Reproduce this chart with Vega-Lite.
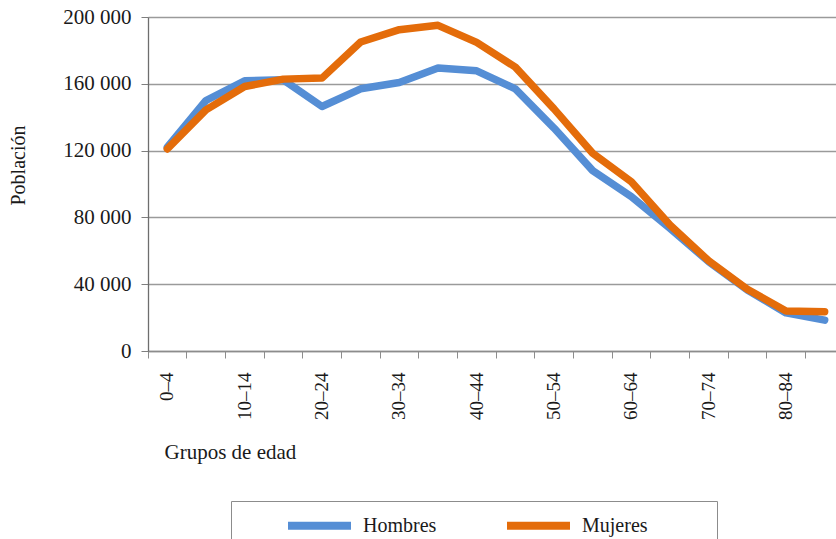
{
  "$schema": "https://vega.github.io/schema/vega-lite/v6.json",
  "autosize": {"type": "none"},
  "padding": {"left": 148, "top": 17, "right": 0, "bottom": 188},
  "width": 688,
  "height": 334,
  "background": "white",
  "config": {
    "font": "Liberation Serif",
    "view": {"stroke": null},
    "axis": {"labelFont": "Liberation Serif", "titleFont": "Liberation Serif", "labelColor": "#1a1a1a", "titleColor": "#1a1a1a", "titleFontWeight": "normal"},
    "legend": {"labelFont": "Liberation Serif"}
  },
  "data": {
    "values": [
      {"edad": "0–4", "sexo": "Hombres", "poblacion": 122000},
      {"edad": "5–9", "sexo": "Hombres", "poblacion": 150000},
      {"edad": "10–14", "sexo": "Hombres", "poblacion": 161800},
      {"edad": "15–19", "sexo": "Hombres", "poblacion": 162400},
      {"edad": "20–24", "sexo": "Hombres", "poblacion": 146400},
      {"edad": "25–29", "sexo": "Hombres", "poblacion": 157000},
      {"edad": "30–34", "sexo": "Hombres", "poblacion": 160800},
      {"edad": "35–39", "sexo": "Hombres", "poblacion": 169400},
      {"edad": "40–44", "sexo": "Hombres", "poblacion": 167800},
      {"edad": "45–49", "sexo": "Hombres", "poblacion": 157000},
      {"edad": "50–54", "sexo": "Hombres", "poblacion": 133500},
      {"edad": "55–59", "sexo": "Hombres", "poblacion": 108000},
      {"edad": "60–64", "sexo": "Hombres", "poblacion": 92400},
      {"edad": "65–69", "sexo": "Hombres", "poblacion": 73400},
      {"edad": "70–74", "sexo": "Hombres", "poblacion": 53500},
      {"edad": "75–79", "sexo": "Hombres", "poblacion": 36500},
      {"edad": "80–84", "sexo": "Hombres", "poblacion": 22800},
      {"edad": "85+", "sexo": "Hombres", "poblacion": 18500},
      {"edad": "0–4", "sexo": "Mujeres", "poblacion": 121000},
      {"edad": "5–9", "sexo": "Mujeres", "poblacion": 144400},
      {"edad": "10–14", "sexo": "Mujeres", "poblacion": 158400},
      {"edad": "15–19", "sexo": "Mujeres", "poblacion": 162800},
      {"edad": "20–24", "sexo": "Mujeres", "poblacion": 163400},
      {"edad": "25–29", "sexo": "Mujeres", "poblacion": 185000},
      {"edad": "30–34", "sexo": "Mujeres", "poblacion": 192400},
      {"edad": "35–39", "sexo": "Mujeres", "poblacion": 195000},
      {"edad": "40–44", "sexo": "Mujeres", "poblacion": 184800},
      {"edad": "45–49", "sexo": "Mujeres", "poblacion": 170000},
      {"edad": "50–54", "sexo": "Mujeres", "poblacion": 145000},
      {"edad": "55–59", "sexo": "Mujeres", "poblacion": 118400},
      {"edad": "60–64", "sexo": "Mujeres", "poblacion": 101400},
      {"edad": "65–69", "sexo": "Mujeres", "poblacion": 75400},
      {"edad": "70–74", "sexo": "Mujeres", "poblacion": 54000},
      {"edad": "75–79", "sexo": "Mujeres", "poblacion": 37000},
      {"edad": "80–84", "sexo": "Mujeres", "poblacion": 24000},
      {"edad": "85+", "sexo": "Mujeres", "poblacion": 23500}
    ]
  },
  "mark": {"type": "line", "strokeWidth": 7.5, "strokeCap": "round", "strokeJoin": "round", "clip": true},
  "encoding": {
    "x": {
      "field": "edad",
      "type": "ordinal",
      "sort": null,
      "scale": {"type": "band", "paddingInner": 0, "paddingOuter": 0, "range": [0, 696]},
      "axis": {
        "title": "Grupos de edad",
        "titleFontSize": 21,
        "titleAlign": "left",
        "titleAnchor": "start",
        "titleX": 16,
        "titleY": 101,
        "titleBaseline": "middle",
        "labelAngle": -90,
        "labelAlign": "right",
        "labelBaseline": "middle",
        "labelFontSize": 19,
        "labelPadding": 14,
        "labelExpr": "indexof(['0–4','10–14','20–24','30–34','40–44','50–54','60–64','70–74','80–84'], datum.value) >= 0 ? datum.label : ''",
        "bandPosition": 0,
        "tickSize": 7,
        "tickColor": "#8c8c8c",
        "domainColor": "#8c8c8c",
        "domainWidth": 1.3,
        "grid": false
      }
    },
    "y": {
      "field": "poblacion",
      "type": "quantitative",
      "scale": {"domain": [0, 200000], "nice": false},
      "axis": {
        "title": "Población",
        "titleFontSize": 20,
        "titleX": -130,
        "titleY": 148,
        "titleBaseline": "middle",
        "values": [0, 40000, 80000, 120000, 160000, 200000],
        "labelExpr": "replace(format(datum.value, ','), ',', ' ')",
        "labelFontSize": 21,
        "labelPadding": 10,
        "tickSize": 7,
        "tickColor": "#7f7f7f",
        "domainColor": "#6e6e6e",
        "domainWidth": 1.3,
        "gridColor": "#9a9a9a",
        "gridWidth": 1.3
      }
    },
    "color": {
      "field": "sexo",
      "type": "nominal",
      "scale": {"domain": ["Hombres", "Mujeres"], "range": ["#558ED5", "#E46C0A"]},
      "legend": {
        "orient": "none",
        "legendX": 83,
        "legendY": 484,
        "direction": "horizontal",
        "title": " ",
        "titleOrient": "right",
        "titlePadding": 59,
        "symbolType": "M-3,0H3",
        "symbolSize": 441,
        "symbolStrokeWidth": 8,
        "symbolOffset": 64,
        "labelFontSize": 20,
        "labelColor": "#1a1a1a",
        "labelOffset": 29,
        "columnPadding": 23,
        "padding": 10,
        "strokeColor": "#8c8c8c",
        "fillColor": "white"
      }
    }
  }
}
